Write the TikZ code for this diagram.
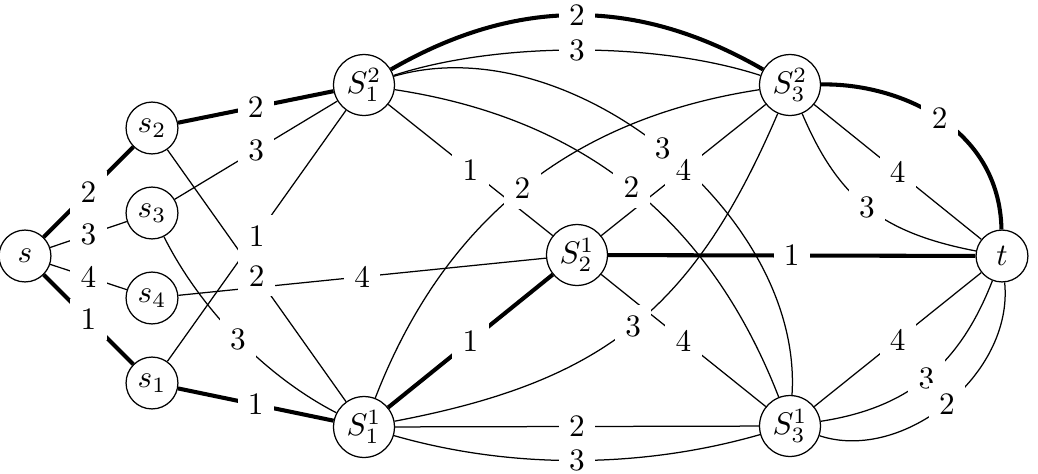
\documentclass[tikz,border=0pt]{standalone}
\makeatletter
\newcommand\lbls{}
\newcommand\E[5]{\draw[#1] (#2) #3 (#4);\g@addto@macro\lbls{\path (#2) #3 (#4) node[lbl,pos=.5]{#5};}}
\makeatother
\begin{document}
\begin{tikzpicture}[x=0.32pt,y=-0.32pt,line width=0.4pt,
  sn/.style={circle,draw,line width=0.4pt,minimum size=16.6pt,inner sep=0pt},
  bn/.style={circle,draw,line width=0.4pt,minimum size=19.5pt,inner sep=0pt},
  thk/.style={line width=1.3pt},
  lbl/.style={fill=white,inner sep=3.33pt}]
\useasboundingbox (0,0) rectangle (1038,473);
% nodes
\node[sn] (s)  at (25,256)  {$s$};
\node[sn] (s2) at (152,128) {$s_2$};
\node[sn] (s3) at (152,213) {$s_3$};
\node[sn] (s4) at (152,298) {$s_4$};
\node[sn] (s1) at (152,383) {$s_1$};
\node[bn] (S12) at (364,85)  {$S_1^2$};
\node[bn] (S11) at (364,427) {$S_1^1$};
\node[bn] (S21) at (577,255) {$S_2^1$};
\node[bn] (S32) at (790,85)  {$S_3^2$};
\node[bn] (S31) at (790,426) {$S_3^1$};
\node[sn] (t)  at (1002,256) {$t$};
% edges
\E{thk}{s}{--}{s2}{2}
\E{}{s}{--}{s3}{3}
\E{}{s}{--}{s4}{4}
\E{thk}{s}{--}{s1}{1}
\E{thk}{s2}{--}{S12}{2}
\E{}{s2}{--}{S11}{2}
\E{}{s3}{--}{S12}{3}
\E{}{s3}{.. controls (201.2,310.7) and (266.8,376.9) ..}{S11}{3}
\E{}{s1}{--}{S12}{1}
\E{thk}{s1}{--}{S11}{1}
\E{}{s4}{--}{S21}{4}
\E{}{S12}{--}{S21}{1}
\E{thk}{S11}{--}{S21}{1}
\E{}{S11}{--}{S31}{2}
\E{}{S21}{--}{S32}{4}
\E{}{S21}{--}{S31}{4}
\E{thk}{S21}{--}{t}{1}
\E{}{S32}{--}{t}{4}
\E{}{S31}{--}{t}{4}
\E{thk}{S12}{.. controls (516.6,-3.1) and (637.4,-3.1) ..}{S32}{2}
\E{}{S12}{.. controls (498,41.5) and (656,41.5) ..}{S32}{3}
\E{}{S12}{.. controls (583.4,118.3) and (709.4,219.3) ..}{S31}{2}
\E{}{S12}{.. controls (568.3,25.1) and (803.7,213.5) ..}{S31}{3}
\E{}{S11}{.. controls (444.3,220.2) and (570.7,118.6) ..}{S32}{2}
\E{}{S11}{.. controls (604.4,381.4) and (693.4,309.8) ..}{S32}{3}
\E{}{S11}{.. controls (512,469.5) and (642,468.5) ..}{S31}{3}
\E{thk}{S32}{.. controls (898.5,83.0) and (999.5,126.7) ..}{t}{2}
\E{}{S32}{.. controls (838.2,198.3) and (881.0,232.7) ..}{t}{3}
\E{}{S31}{.. controls (907.2,408.0) and (959.0,366.6) ..}{t}{3}
\E{}{S31}{.. controls (903.1,463.3) and (1013.9,374.5) ..}{t}{2}
\lbls
\end{tikzpicture}
\end{document}
